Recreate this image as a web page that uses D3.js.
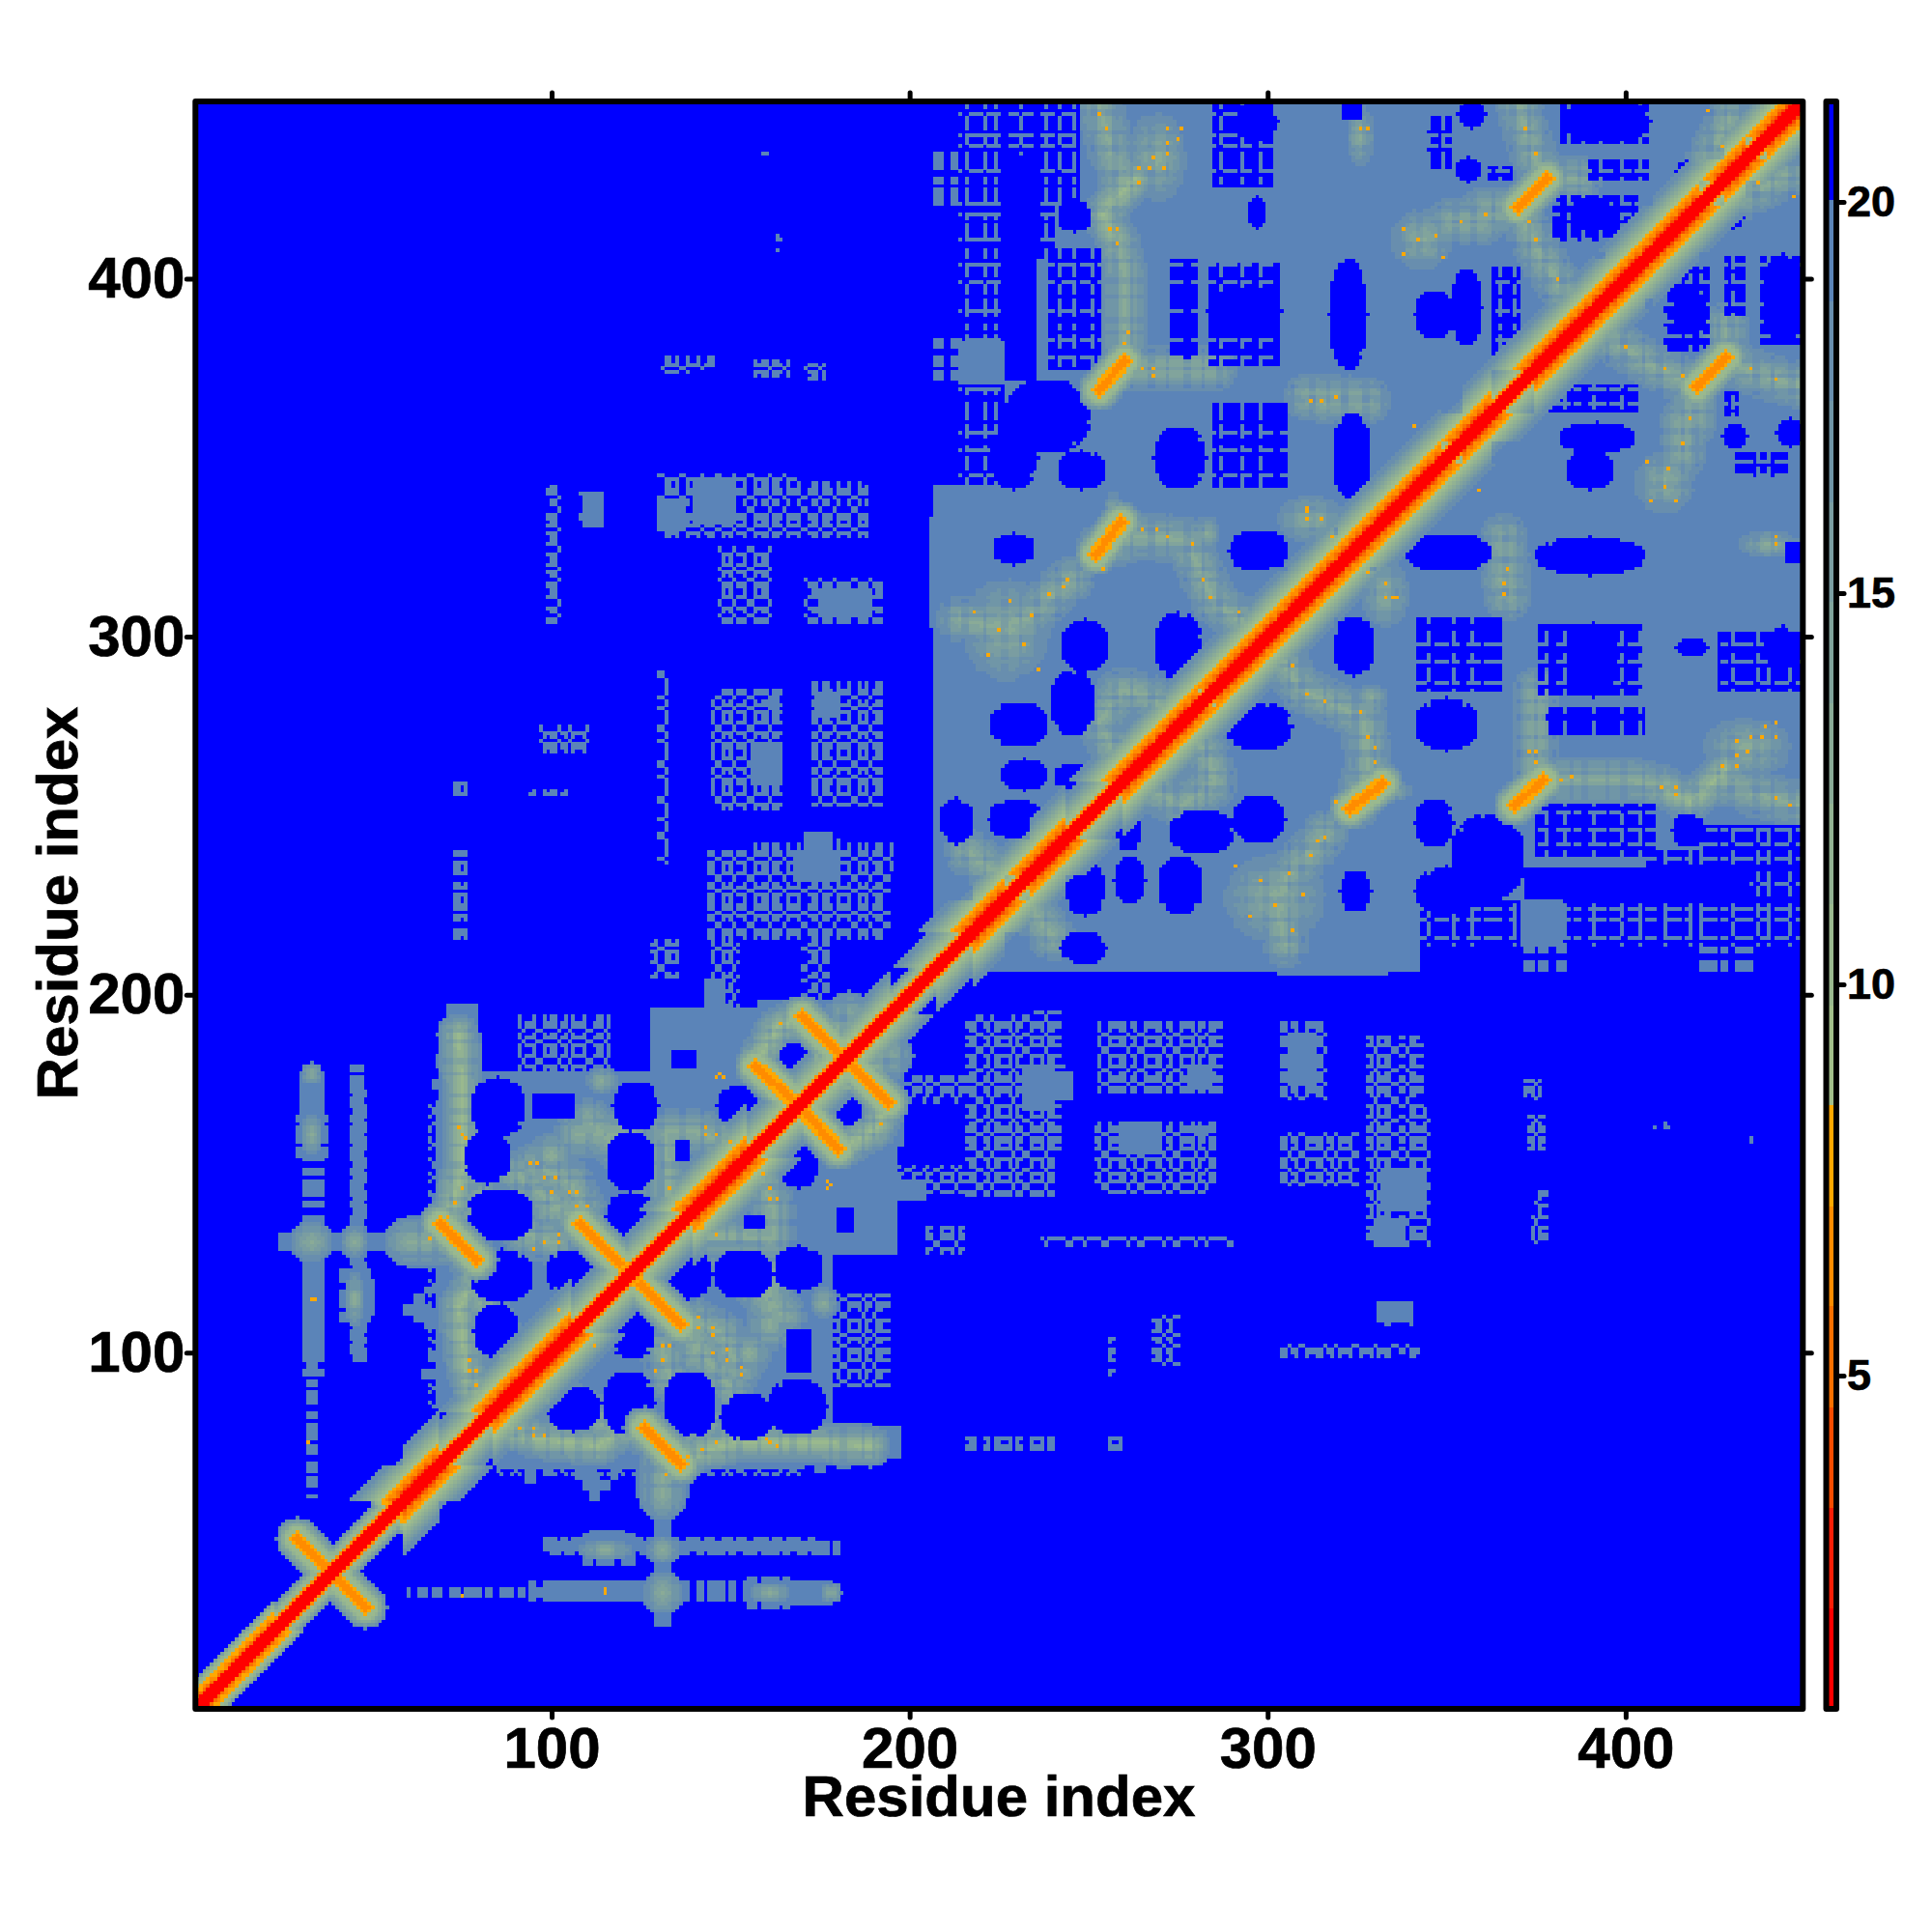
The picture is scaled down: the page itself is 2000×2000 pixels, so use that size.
<!DOCTYPE html>
<html><head><meta charset="utf-8">
<script src="https://cdn.jsdelivr.net/npm/d3@7"></script>
<style>html,body{margin:0;background:#fff}svg{display:block}text{font-family:"Liberation Sans",Arial,sans-serif;font-weight:bold;fill:#000;stroke:#000;stroke-width:.7px}</style>
</head><body><svg id="c" width="2000" height="2000"></svg>
<script>
const residueCount = 449;
const axisTicks = [100,200,300,400];
const legendTicks = [5,10,15,20];
const levelBreaks = [2.03,3.31,4.6,5.89,7.17,8.46,9.74,11.03,12.31,13.6,14.89,16.17,17.46,18.74,20.03];
const levelColors = ['#ff0000','#f91e06','#f84c00','#f97000','#ff8c00','#ffa800','#a2bf8a','#9ab98e','#92b292','#8aab97','#81a49c','#7a9da1','#7096a7','#688eae','#5b84b8','#0000ff'];
// regions are read in residue coordinates [x0,x1,y0,y1] on the lower-right half; the map is symmetric
const solidBlocks = [
 // upper domain
 [216,240,207,449],[240,244,208,449],[244,254,217,449],[254,273,212,449],[273,281,216,449],[281,284,212,449],[284,290,217,449],[290,303,210,449],[303,333,206,449],[333,343,214,449],[343,449,214,449],[207,216,209,345],
 // lower domain
 [88,178,79,128],[85,170,68,79],[170,197,71,79],[128,196,128,158],[140,198,158,183],[165,195,183,190],[129,133,24,66],[125,137,58,68],
 [93,95,64,68],[98,100,66,68],[107,112,65,68],[111,113,59,66],[109,116,62,64],[117,118,65,68],[161,162,68,71],[174,176,67,71],[152,157,69,72],[180,183,68,71],
 // dense patches further out
 [140,151,332,342],[130,137,330,338],[109,114,331,340],[175,189,306,313],[161,163,280,283],[174,180,278,284],[156,163,263,270],[168,180,232,240],
 [239,245,171,178],[259,268,156,164],[335,344,140,151],[330,338,130,135],[333,338,109,113],[197,204,143,148],[30,36,160,177],[31,36,126,135],[44,50,111,120],[33,35,100,125]
];
const speckleBlocks = [
 [178,194,91,116],[216,225,171,176],[232,245,171,178],[235,242,157,195],[253,287,173,192],[252,285,147,164],[304,316,171,192],[304,325,147,161],
 [328,342,168,188],[328,345,130,168],[204,221,145,151],[372,376,171,176],[373,377,157,166],[374,376,132,138],[237,290,130,132],[332,340,108,114],
 [256,257,94,104],[270,272,99,109],[304,342,99,102],[216,235,73,76],[256,259,73,78],[330,343,132,145],[330,343,152,187],[233,243,173,180],
 [254,283,145,152],[375,378,131,145],[373,376,161,165],[408,412,163,164],[435,436,159,160],[268,275,97,110],[254,257,73,75],
 [216,240,73,76],[195,220,145,152],[216,240,144,194],[60,98,32,34],[98,178,31,36],[99,180,44,47],[108,123,41,49],[155,167,29,37],[31,36,94,126],[45,48,98,173],
 [196,215,170,177],[205,215,128,135],[85,170,66,68],[372,383,206,213],[421,435,207,213],[208,216,345,449]
];
const blueBlocks = [[372,434,227,235],[343,449,206,213],[384,396,285,302],[414,422,387,394]];
// rounded blue holes
const blueHoles = [
 [319,329,290,305],[289,306,269,281],[258,264,241,252],[273,290,240,251],[291,304,243,255],[244,254,223,236],[258,265,226,238],[270,281,223,238],[321,328,224,234],[243,254,209,217],
 [339,362,319,328],[375,405,318,327],[342,358,269,282],[415,422,295,299],[439,449,292,302],[445,449,321,326],[342,351,242,254],[352,371,227,250],[342,358,223,235],[414,421,242,250],
 [382,402,352,359],[384,396,342,351],[428,433,353,359],[443,449,354,360],[428,432,415,419],[385,397,284,303],[414,422,386,395],[439,449,383,406],
 [132,144,116,128],[146,161,116,128],[163,175,118,129],[117,128,99,112],[132,145,77,94],[115,128,78,94],[99,113,79,90],[148,161,76,88],[161,176,78,92],[164,174,147,160],[177,186,164,173],[154,159,135,138],[180,183,153,156]
];
// blue patches crossed by a broken steel lattice
const latticeHoles = [
 [342,365,285,305],[376,404,284,303],[378,405,273,280],[375,408,239,253],[422,449,240,247],[434,449,220,235],[383,406,214,226],[406,449,214,240],
 [411,423,380,403],[438,449,382,406],[428,433,390,406],[377,403,363,370],[431,445,345,351],[428,431,362,368],[426,449,285,301],[343,370,214,226],[180,184,134,140],[166,172,95,106]
];
const latticeX = [345,352,357,369,378,383,391,399,404,411,418,421,430,437,440,446];
const latticeY = [216,221,224,231,238,242,246,251,287,293,298,345,349,365,369,384,388,393,399,404];
// soft green ridges and the stronger ones: polylines of residue pairs
const softRidges = [
 [[131,72],[131,60]],[[161,107],[161,122]],[[157,154],[162,140],[162,132]],[[136,111],[148,105],[152,95]],[[131,101],[133,93]],[[136,133],[162,132]],[[170,178],[183,194]],
 [[302,296],[310,285],[319,281],[327,277],[328,264],[325,253]],[[316,245],[305,232],[303,222],[305,214]],[[264,259],[276,253],[285,259],[284,265],[278,275]],[[232,227],[240,216]],
 [[401,260],[410,258]],[[428,259],[437,256],[449,253]],[[375,285],[375,260]],[[366,328],[367,311]],
 [[428,378],[435,374],[449,370]],[[419,370],[407,376],[396,383],[392,387]],[[416,360],[416,351]],[[419,360],[419,370]],[[428,380],[428,387]],[[433,423],[445,429]],[[377,260],[401,260]],
 [[88,100],[80,115],[78,125]],[[79,136],[82,150]],[[90,150],[108,136]],[[126,150],[110,165]]
];
const strongRidges = [[[86,79],[96,76],[113,74],[120,79],[126,79]],[[136,71],[152,75],[175,75],[189,74]],[[194,170],[191,163],[181,157]],[[410,258],[418,254],[424,259],[428,263]]];
// soft lattice blobs [cx,cy,rx,ry]
const blobs = [[302,227,15,13],[366,316,7,7],[333,312,7,10],[434,269,13,9],[411,343,9,9],[440,326,9,4],[176,114,4,5],[161,114,4,6],[161,131,4,5],[174,75,4,3],[113,74,5,3],[131,33,6,6],[131,45,5,4],[115,45,8,3],[161,33,6,3],[178,33,3,3],[131,65,5,5],[140,105,8,7],[155,100,7,7],[329,283,5,4],[335,257,6,3],[100,140,7,6]];
// antiparallel contact streaks [x0,y0,x1,y1]
const streaks = [[39,38,48,29],[126,79,136,69],[125,119,136,108],[170,168,180,157],[183,181,194,170],[369,253,377,260],[323,252,332,259],[420,370,428,378]];
// single close contacts [x,y]
const hotSpots = [[307,292],[311,284],[316,282],[326,279],[328,272],[330,265],[319,254],[316,244],[312,239],[306,234],[302,225],[307,218],[295,222],[298,232],[291,236],[310,228],[314,243],
 [367,319],[366,315],[366,312],[333,315],[333,311],[336,311],[373,268],[375,268],[375,265],[382,260],[385,261],[410,258],[414,258],[414,256],[427,264],[431,264],[431,267],[434,268],[431,271],[435,272],[438,272],[442,272],[439,275],[442,276],[442,255],[446,253],[442,328],[442,326],[330,269],[330,265],
 [411,375],[400,381],[416,373],[435,375],[442,372],[418,361],[416,354],[412,347],[411,342],[406,349],[407,338],[414,338],[433,427],[437,427],[447,423],[352,346],[359,341],[328,318],[335,311],
 [160,76],[161,75],[115,33],[75,32],[163,74],[115,34],[91,79],[95,79],[95,77],[98,77],[146,75],[142,73],[138,71],[132,66],[107,102],[112,102],[131,102],[133,102],[131,98],[129,95],[141,110],[141,107],[145,107],[145,105],[145,100],[149,101],[149,98],[153,96],[153,94],[156,150],[159,150],[161,146],[161,143],[163,143],[177,146],[177,148],[178,147],[192,164],[142,135],[146,133]];
// stretches of the diagonal: helices, and narrow parts
const helices = [[1,8],[11,22],[58,68],[84,105],[140,154],[218,226],[234,243],[260,270],[272,280],[286,296],[297,303],[306,318],[320,328],[331,348],[355,362],[375,391],[395,405],[408,420],[428,433],[440,449]];
const narrowParts = [[1,58],[195,207]];
const wideProfile = [1,1,2,6.5,9.5,10.5,11.5,12.5,14,15.5,17,18,18.6];
const wideHelixProfile = [1,1,1.5,4,5.5,7,8,9.5,10.5,11.5,13,14.5,16,17,18,18.6];
const narrowProfile = [1,1,2,6.5,10,11.5,14,17];
const narrowHelixProfile = [1,1,2,5,7,8,10,12,16];
// residues crossing the speckled areas
const gapX = [61,62,66,70,71,75,81,84,85,90,93,94,99,103,107,108,112,118,119,124,127,128,134,139,140,143,149,152,153,158,164,167,168,172,178,181,182,187,190,196,199,200,204,207,208,213,219,220,223,229,232,233,238,244,245,249,254,255,261,264,265,271,274,275,280,283,289,290,294,299,300,306,309,310,316,319,324,325,330,335,336,339,345,346,351,354,355,360,366,367,370,375,379,380,385,388,389,395,399,400,405,409,410,416,419,420,426,429,430,436,437,441,446,447];
const gapY = [63,67,68,72,77,78,83,87,88,92,96,97,102,105,110,111,115,121,122,126,130,131,136,137,142,146,147,151,155,156,161,165,170,171,175,179,184,185,189,193,194,198,202,203,206,210,211,215,216,221,226,227,231,235,236,241,242,247,251,252,257,258,262,267,268,272,277,278,282,286,287,292,296,297,302,303,307,312,313,317,321,322,327,328,332,337,338,342,343,348,352,353,357,358,363,368,369,373,377,378,382,383,387,391,392,397,398,402,407,408,412,413,418,423,424,428,432,433,438,439,443,448];

const x = d3.scaleLinear().domain([0.5, residueCount+0.5]).range([202.3, 1866.3]);
const y = d3.scaleLinear().domain([0.5, residueCount+0.5]).range([1769, 105]);
const legendY = d3.scaleLinear().domain([5,20]).range([1424,209]);
const color = d3.scaleThreshold().domain(levelBreaks).range(levelColors);
const gx = new Set(gapX), gy = new Set(gapY), lx = new Set(latticeX), ly = new Set(latticeY);
const n = residueCount;
const grid = new Float32Array(n*n).fill(21);
const lower = (a,b,v)=>{ if(a<1||b<1||a>n||b>n) return; const i=(b-1)*n+a-1, j=(a-1)*n+b-1; if(v<grid[i]) grid[i]=v; if(v<grid[j]) grid[j]=v; };
const force = (a,b,v)=>{ if(a<1||b<1||a>n||b>n) return; grid[(b-1)*n+a-1]=v; grid[(a-1)*n+b-1]=v; };
const STEEL=19, BLUE=21;
const fray=(i,j)=>gx.has(i)||gy.has(j);
solidBlocks.forEach(([a,b,c,d])=>{ for(let i=a;i<=b;i++) for(let j=c;j<=d;j++) lower(i,j,STEEL); });
speckleBlocks.forEach(([a,b,c,d])=>{ for(let i=a;i<=b;i++) for(let j=c;j<=d;j++) {
  const closed=(gx.has(i)&&!gy.has(j))||(gy.has(j)&&!gx.has(i))||(gx.has(j)&&gy.has(i));
  if(!closed) lower(i,j,STEEL); } });
const segDist=(px,py,a,b)=>{const dx=b[0]-a[0],dy=b[1]-a[1],l=dx*dx+dy*dy||1;let t=((px-a[0])*dx+(py-a[1])*dy)/l;t=Math.max(0,Math.min(1,t));return Math.hypot(px-a[0]-t*dx,py-a[1]-t*dy);};
const stroke=(pts,w,profile)=>{ for(let k=0;k<pts.length-1;k++){const p=pts[k],q=pts[k+1];
  const x0=Math.floor(Math.min(p[0],q[0])-w),x1=Math.ceil(Math.max(p[0],q[0])+w),y0=Math.floor(Math.min(p[1],q[1])-w),y1=Math.ceil(Math.max(p[1],q[1])+w);
  for(let i=x0;i<=x1;i++) for(let j=y0;j<=y1;j++){const d=segDist(i,j,p,q); if(d<=w) lower(i,j,profile(d/w,i,j));}}};
const tint=c=>(t,i,j)=>c+(19-c)*t+(gx.has(i)?2.6:0)*(1-t)+(gy.has(j)?2.6:0)*(1-t);
softRidges.forEach(r=>stroke(r,7,tint(13)));
strongRidges.forEach(r=>stroke(r,6,tint(10.6)));
blobs.forEach(([cx,cy,rx,ry])=>{ const f=tint(11); for(let i=Math.floor(cx-rx);i<=cx+rx;i++) for(let j=Math.floor(cy-ry);j<=cy+ry;j++){ const t=Math.hypot((i-cx)/rx,(j-cy)/ry); if(t<=1) lower(i,j,f(.2+.8*t,i,j)); } });
// holes cut through the soft ridges
latticeHoles.forEach(([a,b,c,d])=>{ for(let i=a;i<=b;i++) for(let j=c;j<=d;j++){ const line=(lx.has(i)&&!gy.has(j))||(ly.has(j)&&!gx.has(i)); if(!line) force(i,j,BLUE);} });
blueHoles.forEach(([a,b,c,d])=>{ const cx=(a+b)/2,cy=(c+d)/2,rx=(b-a)/2+1,ry=(d-c)/2+1;
 for(let i=a-1;i<=b+1;i++) for(let j=c-1;j<=d+1;j++){ const r=Math.pow(Math.abs(i-cx)/rx,2.1)+Math.pow(Math.abs(j-cy)/ry,2.1); if(r<=1&&!(r>.78&&gx.has(i)&&gy.has(j+1))) force(i,j,BLUE);} });
blueBlocks.forEach(([a,b,c,d])=>{ for(let i=a;i<=b;i++) for(let j=c;j<=d;j++) force(i,j,BLUE); });
speckleBlocks.filter(b=>b[2]>=206&&b[3]<=213&&b[0]>=372).forEach(([a,b,c,d])=>{ for(let i=a;i<=b;i++) for(let j=c;j<=d;j++) if(!fray(i,j)) force(i,j,STEEL); });
streaks.forEach(([a,b,c,d])=>{ stroke([[a,b],[c,d]],6,(t)=>t<.17?6.4:t<.34?7.6:t<.5?10:10+9*(t-.5)/.5); });
hotSpots.forEach(([a,b])=>lower(a,b,7.5));
const within=(list,i)=>list.some(([a,b])=>i>=a&&i<=b);
for(let i=1;i<=n;i++){ const h=within(helices,i), nr=within(narrowParts,i); const prof=nr?(h?narrowHelixProfile:narrowProfile):(h?wideHelixProfile:wideProfile);
  prof.forEach((v,d)=>{ let val=v; if((d===3||d===4)&&(i%2===0)) val=v+1.2; lower(i,i-d,val); lower(i+d,i,val); }); }
// draw
const svg=d3.select('#c');
svg.append('rect').attr('x',x(0.5)).attr('y',y(residueCount+0.5)).attr('width',x(residueCount+.5)-x(.5)).attr('height',y(.5)-y(residueCount+.5)).attr('fill','#0000ff');
const runs=[];
for(let j=1;j<=n;j++){ let i=1; while(i<=n){ const c=color(grid[(j-1)*n+i-1]); let e=i; while(e<n&&color(grid[(j-1)*n+e])===c) e++; if(c!=='#0000ff') runs.push({a:i,b:e,j,c}); i=e+1; } }
svg.append('g').attr('shape-rendering','crispEdges').selectAll('rect').data(runs).join('rect')
 .attr('x',d=>x(d.a-.5)).attr('width',d=>x(d.b+.5)-x(d.a-.5)+.3).attr('y',d=>y(d.j+.5)).attr('height',d=>y(d.j-.5)-y(d.j+.5)+.3).attr('fill',d=>d.c);
const frame=(g,a,b,c,d)=>g.append('rect').attr('x',a).attr('y',c).attr('width',b-a).attr('height',d-c).attr('fill','none').attr('stroke','#000').attr('stroke-width',6).attr('stroke-linejoin','round');
frame(svg,x(.5),x(n+.5),y(n+.5),y(.5));
const styleAxis=(g,fs)=>{ g.select('.domain').remove(); g.selectAll('.tick line').attr('stroke','#000').attr('stroke-width',5).attr('stroke-linecap','round'); g.selectAll('.tick text').style('font-size',fs+'px').attr('fill','#000'); };
const bottom=svg.append('g').attr('transform',`translate(0,${y(.5)})`).call(d3.axisBottom(x).tickValues(axisTicks).tickSize(9).tickPadding(9).tickFormat(d3.format('d')));styleAxis(bottom,60);
const top_=svg.append('g').attr('transform',`translate(0,${y(n+.5)})`).call(d3.axisTop(x).tickValues(axisTicks).tickSize(9).tickFormat(''));styleAxis(top_,10);
const left=svg.append('g').attr('transform',`translate(${x(.5)},0)`).call(d3.axisLeft(y).tickValues(axisTicks).tickSize(9).tickPadding(2).tickFormat(d3.format('d')));styleAxis(left,60);
const right=svg.append('g').attr('transform',`translate(${x(n+.5)},0)`).call(d3.axisRight(y).tickValues(axisTicks).tickSize(9).tickFormat(''));styleAxis(right,10);
svg.append('text').attr('x',1034).attr('y',1880).attr('text-anchor','middle').style('font-size','60px').text('Residue index');
svg.append('text').attr('transform','translate(80,935) rotate(-90)').attr('text-anchor','middle').style('font-size','60px').text('Residue index');
// legend
const lx0=1890.5,lx1=1901;
const edges=[0.74,...levelBreaks,21.3];
svg.append('g').attr('shape-rendering','crispEdges').selectAll('rect').data(levelColors).join('rect').attr('x',lx0).attr('width',lx1-lx0)
 .attr('y',(d,i)=>legendY(edges[i+1])).attr('height',(d,i)=>legendY(edges[i])-legendY(edges[i+1])+.5).attr('fill',d=>d);
frame(svg,lx0,lx1,y(n+.5),y(.5));
const lg=svg.append('g').attr('transform',`translate(${lx1},0)`).call(d3.axisRight(legendY).tickValues(legendTicks).tickSize(8).tickPadding(3).tickFormat(d3.format('d')));styleAxis(lg,45);
</script></body></html>
